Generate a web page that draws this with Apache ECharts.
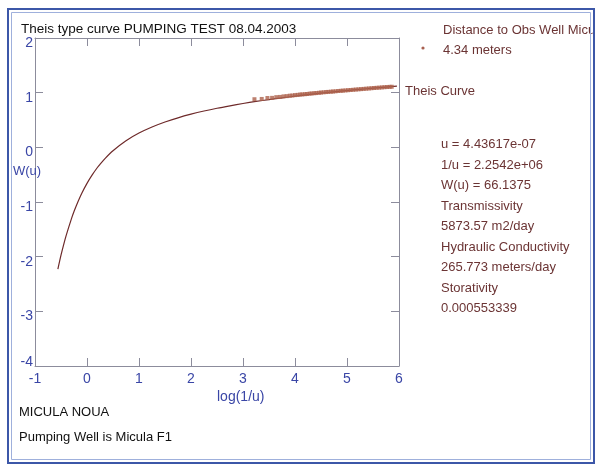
<!DOCTYPE html>
<html>
<head>
<meta charset="utf-8">
<script src="https://cdn.jsdelivr.net/npm/echarts@6/dist/echarts.min.js"></script>
<style>
  html, body { margin: 0; padding: 0; background: #fff; }
  #chart { width: 599px; height: 465px; }
</style>
</head>
<body>
<div id="chart"></div>
<script>
// Theis type curve: log10(W(u)) against log10(1/u)
const curveX = [-0.56, -0.5, -0.45, -0.4, -0.3, -0.25, -0.2, -0.1, 0, 0.1, 0.2, 0.25, 0.35, 0.5, 0.75,
  1, 1.25, 1.5, 1.75, 2, 2.25, 2.5, 2.75, 3, 3.25, 3.5, 3.75, 4, 4.25, 4.5, 4.75, 5, 5.25, 5.5, 5.75, 5.96];
const curveY = [-2.227, -1.973, -1.783, -1.610, -1.308, -1.175, -1.054, -0.840, -0.659, -0.504, -0.369, -0.310, -0.201, -0.062, 0.121,
  0.261, 0.372, 0.464, 0.540, 0.606, 0.664, 0.715, 0.760, 0.802, 0.839, 0.874, 0.906, 0.936, 0.964, 0.991, 1.015, 1.039, 1.061, 1.082, 1.103, 1.119];

// Observation well drawdown data, plotted on the same axes
const obsX = [3.22, 3.36, 3.47, 3.56, 3.64, 3.71, 3.78, 3.84, 3.90, 3.95, 4.00, 4.05, 4.10, 4.14, 4.19, 4.23,
  4.28, 4.32, 4.37, 4.41, 4.46, 4.50, 4.55, 4.60, 4.64, 4.69, 4.73, 4.78, 4.83, 4.88, 4.92, 4.97, 5.02,
  5.07, 5.12, 5.17, 5.22, 5.27, 5.32, 5.37, 5.42, 5.47, 5.52, 5.57, 5.62, 5.67, 5.72, 5.77, 5.82, 5.86];
const obsY = [0.880, 0.885, 0.902, 0.905, 0.918, 0.922, 0.932, 0.937, 0.945, 0.948, 0.955, 0.960, 0.966, 0.968, 0.972, 0.976,
  0.982, 0.985, 0.990, 0.993, 0.998, 1.002, 1.007, 1.011, 1.014, 1.018, 1.021, 1.025, 1.030, 1.034, 1.037, 1.041, 1.045,
  1.049, 1.053, 1.057, 1.061, 1.065, 1.069, 1.073, 1.077, 1.081, 1.085, 1.089, 1.092, 1.096, 1.100, 1.103, 1.106, 1.108];

const xTicks = { min: -1, max: 6, interval: 1 };
const yTicks = { min: -4, max: 2, interval: 1 };

const titleText = 'Theis type curve PUMPING TEST 08.04.2003';
const footerLines = ['MICULA NOUA', 'Pumping Well is Micula F1'];
const obsLegend = ['Distance to Obs Well Micula', '4.34 meters'];
const curveLegend = 'Theis Curve';
const statsLines = ['u = 4.43617e-07', '1/u = 2.2542e+06', 'W(u) = 66.1375', 'Transmissivity',
  '5873.57 m2/day', 'Hydraulic Conductivity', '265.773 meters/day', 'Storativity', '0.000553339'];

const FONT = '"Liberation Sans", Arial, sans-serif';
const BLUE = '#3a46a6';
const TEXT_RED = '#6b3434';
const FRAME = '#8c8c9c';

const chart = echarts.init(document.getElementById('chart'), null, { renderer: 'canvas' });

const pair = (xs, ys) => xs.map((x, i) => [x, ys[i]]);

const axisCommon = {
  type: 'value',
  splitLine: { show: false },
  axisLine: { show: true, onZero: false, lineStyle: { color: FRAME, width: 1 } },
  axisTick: { show: true, inside: true, length: 8, lineStyle: { color: FRAME, width: 1 } }
};

const graphics = [];
graphics.push({ type: 'text', left: 21, top: 22, z: 10,
  style: { text: titleText, font: '13.5px ' + FONT, fill: '#111' } });
graphics.push({ type: 'text', left: 443, top: 24, z: 10,
  style: { text: obsLegend[0], font: '13px ' + FONT, fill: TEXT_RED } });
graphics.push({ type: 'text', left: 443, top: 44, z: 10,
  style: { text: obsLegend[1], font: '13px ' + FONT, fill: TEXT_RED } });
graphics.push({ type: 'circle', shape: { cx: 423, cy: 48, r: 1.6 }, z: 10,
  style: { fill: '#a86050' } });
graphics.push({ type: 'text', left: 405, top: 85, z: 10,
  style: { text: curveLegend, font: '13px ' + FONT, fill: TEXT_RED } });
statsLines.forEach((t, i) => {
  graphics.push({ type: 'text', left: 441, top: 138 + i * 20.5, z: 10,
    style: { text: t, font: '13px ' + FONT, fill: TEXT_RED } });
});
graphics.push({ type: 'text', left: 13, top: 165, z: 10,
  style: { text: 'W(u)', font: '13px ' + FONT, fill: BLUE } });
graphics.push({ type: 'text', left: 217, top: 390, z: 10,
  style: { text: 'log(1/u)', font: '14px ' + FONT, fill: BLUE, align: 'center' } });
footerLines.forEach((t, i) => {
  graphics.push({ type: 'text', left: 19, top: 406 + i * 25, z: 10,
    style: { text: t, font: '13px ' + FONT, fill: '#111' } });
});
// page frame (white strip hides text running past the edge)
graphics.push({ type: 'rect', shape: { x: 593, y: 0, width: 6, height: 465 }, z: 20,
  style: { fill: '#fff' } });
graphics.push({ type: 'rect', shape: { x: 8, y: 9, width: 586, height: 454 }, z: 21,
  style: { fill: 'none', stroke: '#3c57a8', lineWidth: 2 } });
graphics.push({ type: 'rect', shape: { x: 11.5, y: 12.5, width: 579, height: 447 }, z: 21,
  style: { fill: 'none', stroke: '#9fb0dc', lineWidth: 1 } });

chart.setOption({
  backgroundColor: '#fff',
  animation: false,
  grid: { left: 35, top: 38, width: 364, height: 328, containLabel: false },
  xAxis: [
    Object.assign({}, axisCommon, {
      position: 'bottom', min: xTicks.min, max: xTicks.max, interval: xTicks.interval,
      axisLabel: { show: true, margin: 6, color: BLUE, fontSize: 14, fontFamily: FONT }
    }),
    Object.assign({}, axisCommon, {
      position: 'top', min: xTicks.min, max: xTicks.max, interval: xTicks.interval,
      axisLabel: { show: false }
    })
  ],
  yAxis: [
    Object.assign({}, axisCommon, {
      position: 'left', min: yTicks.min, max: yTicks.max, interval: yTicks.interval,
      axisLabel: {
        show: true, margin: 2, color: BLUE, fontSize: 14, fontFamily: FONT,
        formatter: v => v === yTicks.min ? '{lo|' + v + '}' : '{n|' + v + '}',
        rich: {
          n: { color: BLUE, fontSize: 14, fontFamily: FONT, padding: [10, 0, 0, 0] },
          lo: { color: BLUE, fontSize: 14, fontFamily: FONT, padding: [0, 0, 8, 0] }
        }
      }
    }),
    Object.assign({}, axisCommon, {
      position: 'right', min: yTicks.min, max: yTicks.max, interval: yTicks.interval,
      axisLabel: { show: false }
    })
  ],
  series: [
    {
      name: 'Theis Curve', type: 'line', xAxisIndex: 0, yAxisIndex: 0,
      data: pair(curveX, curveY), smooth: 0.3, showSymbol: false, symbol: 'none',
      lineStyle: { color: '#6e2a2a', width: 1.2 }, z: 2
    },
    {
      name: 'Observations', type: 'scatter', xAxisIndex: 0, yAxisIndex: 0,
      data: pair(obsX, obsY), symbol: 'rect', symbolSize: 4,
      itemStyle: { color: '#ad624c' }, z: 3
    }
  ],
  graphic: graphics
});
</script>
</body>
</html>
